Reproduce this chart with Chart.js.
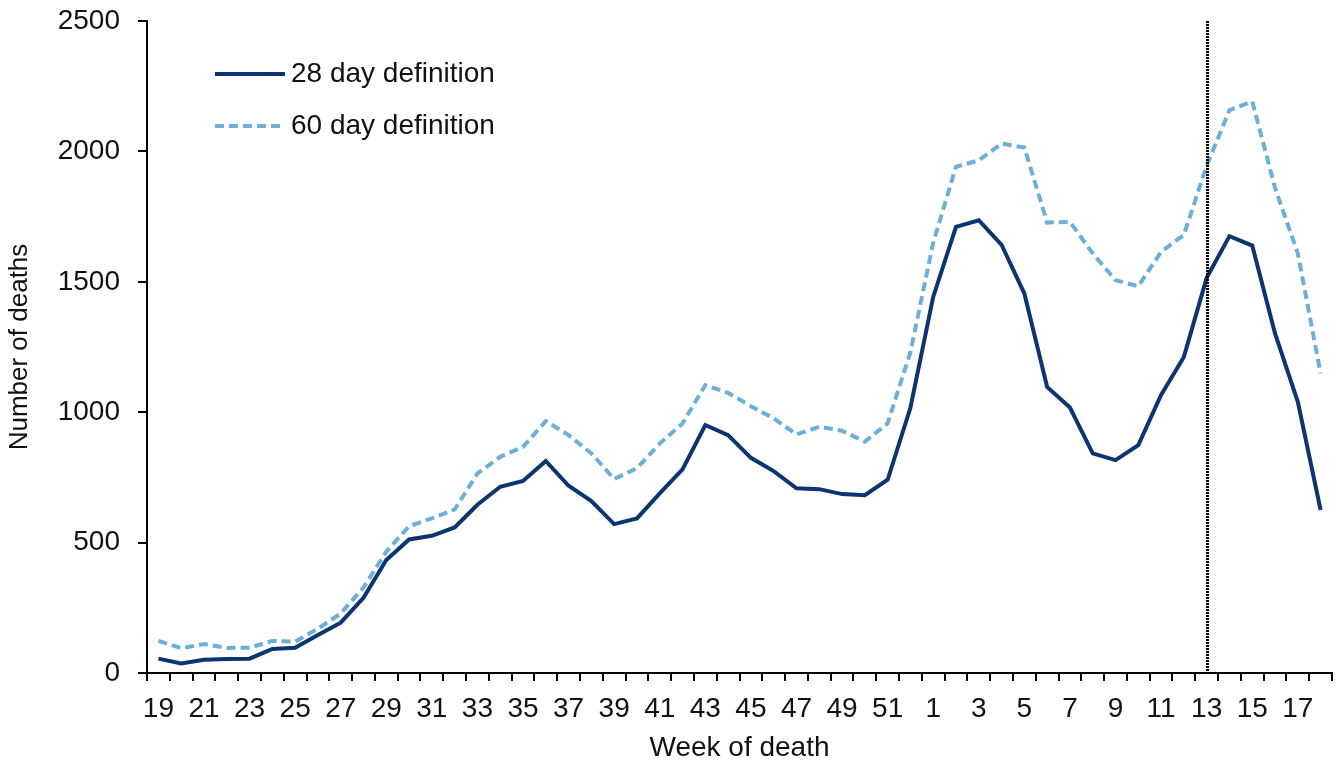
<!DOCTYPE html>
<html>
<head>
<meta charset="utf-8">
<script src="https://cdn.jsdelivr.net/npm/chart.js@4"></script>
<style>
  html, body { margin: 0; padding: 0; background: #fff; }
  #wrap { width: 1340px; height: 762px; }
</style>
</head>
<body>
<div id="wrap"><canvas id="chart"></canvas></div>
<script>
//Week numbers (2020 week 19 to 2021 week 18)
const weeks = [
  "19","20","21","22","23","24","25","26","27","28","29","30","31","32","33","34","35",
  "36","37","38","39","40","41","42","43","44","45","46","47","48","49","50","51","52",
  "1","2","3","4","5","6","7","8","9","10","11","12","13","14","15","16","17","18"
];
//Deaths within 28 days of a positive test
const deaths28 = [
  55, 37, 51, 54, 55, 92, 97, 146, 193, 288, 433, 512, 526, 558, 645, 714, 736,
  813, 718, 659, 571, 593, 689, 781, 951, 912, 825, 774, 708, 705, 686, 682, 741, 1017,
  1442, 1711, 1736, 1642, 1455, 1097, 1018, 842, 816, 874, 1066, 1212, 1515, 1675, 1639, 1302, 1040, 625
];
//Deaths within 60 days of a positive test
const deaths60 = [
  123, 95, 111, 96, 97, 123, 120, 170, 228, 328, 465, 563, 593, 627, 765, 829, 867,
  966, 912, 842, 744, 785, 880, 957, 1104, 1074, 1023, 976, 915, 944, 929, 887, 957, 1230,
  1650, 1941, 1966, 2030, 2015, 1727, 1730, 1609, 1506, 1483, 1615, 1680, 1945, 2158, 2192, 1860, 1609, 1149
];
const seriesNames = ["28 day definition", "60 day definition"];
//Week where the vertical dotted line sits
const markerWeek = "13";

const font = "'Liberation Sans', Arial, sans-serif";
const darkBlue = "#0c3470";
const lightBlue = "#6cb0da";

//draws the dotted marker line and the legend inside the plot
const extras = {
  id: "extras",
  afterDatasetsDraw(chart) {
    const { ctx, chartArea, scales } = chart;
    const x = Math.round(scales.x.getPixelForValue(weeks.indexOf(markerWeek))) + 0.5;
    ctx.save();
    ctx.strokeStyle = "#000";
    ctx.lineWidth = 3;
    ctx.setLineDash([2, 1]);
    ctx.beginPath();
    ctx.moveTo(x, chartArea.top);
    ctx.lineTo(x, chartArea.bottom);
    ctx.stroke();
    ctx.restore();

    //legend
    chart.data.datasets.forEach((ds, i) => {
      const y = 74 + i * 52;
      const x0 = chartArea.left + 68;
      ctx.save();
      ctx.strokeStyle = ds.borderColor;
      ctx.lineWidth = ds.borderWidth;
      ctx.setLineDash(ds.borderDash || []);
      ctx.beginPath();
      ctx.moveTo(x0, y);
      ctx.lineTo(x0 + 70, y);
      ctx.stroke();
      ctx.fillStyle = "#111";
      ctx.font = "28px " + font;
      ctx.textBaseline = "middle";
      ctx.fillText(ds.label, x0 + 76, y);
      ctx.restore();
    });
  }
};

new Chart(document.getElementById("chart"), {
  type: "line",
  plugins: [extras],
  data: {
    labels: weeks,
    datasets: [
      {
        label: seriesNames[0],
        data: deaths28,
        borderColor: darkBlue,
        borderWidth: 4,
        pointRadius: 0,
        tension: 0,
      },
      {
        label: seriesNames[1],
        data: deaths60,
        borderColor: lightBlue,
        borderWidth: 4,
        borderDash: [9, 5],
        pointRadius: 0,
        tension: 0,
      },
    ],
  },
  options: {
    responsive: true,
    maintainAspectRatio: false,
    animation: false,
    layout: { padding: { top: 21, right: 8, left: 0, bottom: 0 } },
    plugins: {
      legend: { display: false },
      tooltip: { enabled: false },
    },
    scales: {
      x: {
        type: "category",
        offset: true,
        afterFit: (s) => { s.height = 89; },
        border: { display: true, color: "#000", width: 2 },
        grid: {
          offset: true,
          drawOnChartArea: false,
          drawTicks: true,
          tickLength: 8,
          color: "#000",
          lineWidth: 2,
        },
        ticks: {
          autoSkip: false,
          maxRotation: 0,
          padding: 11,
          color: "#111",
          font: { family: font, size: 28 },
          callback: (v, i) => (i % 2 === 0 ? weeks[i] : ""),
        },
        title: {
          display: true,
          text: "Week of death",
          color: "#111",
          font: { family: font, size: 28, lineHeight: 1 },
          padding: { top: 0, bottom: 0 },
        },
      },
      y: {
        min: 0,
        max: 2500,
        afterFit: (s) => {
          s.width = 147;
          s.paddingTop = 0;
          s.paddingBottom = 0;
        },
        border: { display: true, color: "#000", width: 2 },
        grid: {
          drawOnChartArea: false,
          drawTicks: true,
          tickLength: 9,
          color: "#000",
          lineWidth: 2,
        },
        ticks: {
          stepSize: 500,
          padding: 18,
          color: "#111",
          font: { family: font, size: 28 },
          callback: (v) => String(v),
        },
        title: {
          display: true,
          text: "Number of deaths",
          color: "#111",
          font: { family: font, size: 26 },
          padding: { top: 4, bottom: 0 },
        },
      },
    },
  },
});
</script>
</body>
</html>
